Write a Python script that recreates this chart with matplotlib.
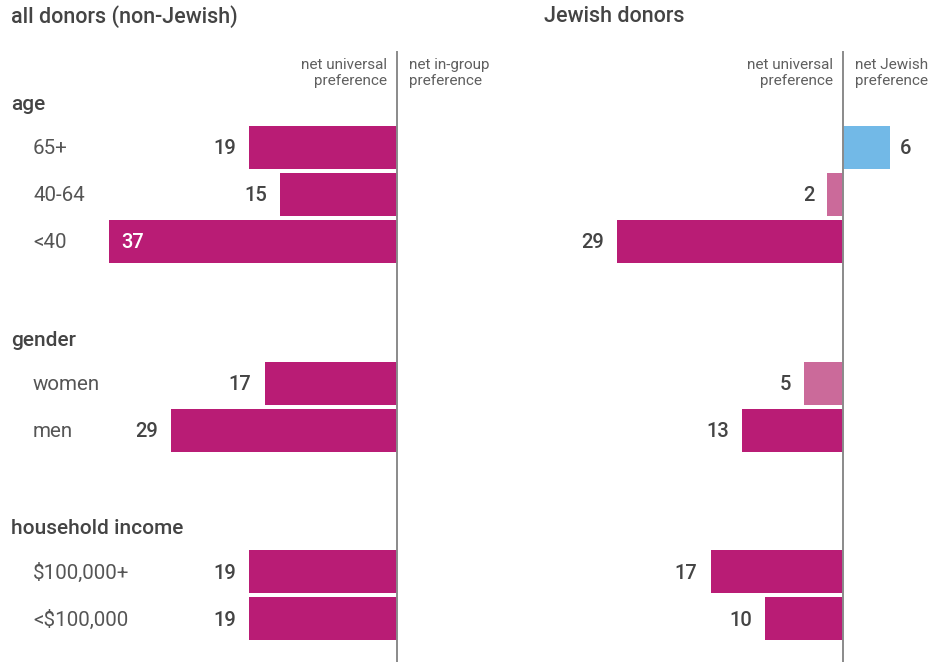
import matplotlib
matplotlib.use('Agg')
import matplotlib.pyplot as plt

plt.rcParams['font.family'] = ['Roboto', 'DejaVu Sans']

# datos (valor negativo = preferencia universal)
groups = ['age', 'gender', 'household income']
rows = [['65+', '40-64', '<40'], ['women', 'men'], ['$100,000+', '<$100,000']]
all_donors = [[-19, -15, -37], [-17, -29], [-19, -19]]
jewish_donors = [[6, -2, -29], [-5, -13], [-17, -10]]
# barras claras = diferencia no significativa
jewish_light = [[False, True, False], [True, False], [False, False]]

MAGENTA = '#B91C75'
PINK = '#CB6A9A'
BLUE = '#72B9E7'
DARK = '#444444'
MID = '#555555'

W, H = 939, 662
PX = 7.78          # pixeles por unidad
SLOT = 47.0        # pixeles por fila
Y0 = 147.5         # centro de la primera barra

fig = plt.figure(figsize=(W / 100, H / 100), dpi=100)

# posiciones de fila: grupos separados por 3 ranuras
slots = []
start = 0
for g in rows:
    slots.append([start + i for i in range(len(g))])
    start += len(g) + 2
slots[1] = [s + 0.02 for s in slots[1]]
slots[2] = [s + 0.03 for s in slots[2]]

ylim = ((H - Y0) / SLOT, -Y0 / SLOT)


def panel(x0, x1, zero, values, light, right_label, show_rows):
    ax = fig.add_axes([x0 / W, 0, (x1 - x0) / W, 1])
    ax.set_xlim(-(zero - x0) / PX, (x1 - zero) / PX)
    ax.set_ylim(*ylim)
    ax.axis('off')
    xmin = -(zero - x0) / PX

    for gi, g in enumerate(groups):
        for ri, lab in enumerate(rows[gi]):
            v = values[gi][ri]
            y = slots[gi][ri]
            if v > 0:
                c = BLUE
            elif light is not None and light[gi][ri]:
                c = PINK
            else:
                c = MAGENTA
            ax.barh(y, v, height=43 / SLOT, color=c, linewidth=0, zorder=2)
            if v > 0:
                ax.text(v + 1.3, y + 0.03, str(abs(v)), ha='left', va='center',
                        fontsize=14.5, fontweight='medium', color=DARK)
            elif abs(v) > 30 and light is None:
                ax.text(v + 1.6, y + 0.03, str(abs(v)), ha='left', va='center',
                        fontsize=14.5, fontweight='medium', color='white')
            else:
                ax.text(v - 1.7, y + 0.03, str(abs(v)), ha='right', va='center',
                        fontsize=14.5, fontweight='medium', color=DARK)
            if show_rows:
                ax.text(xmin + 33 / PX, y + 0.03, lab, ha='left', va='center',
                        fontsize=14.8, color=MID)
        if show_rows:
            ax.text(xmin + 11 / PX, slots[gi][0] - 0.92, g, ha='left', va='center',
                    fontsize=15, fontweight='medium', color=DARK)

    ax.plot([0, 0], [ylim[0], (52 - Y0) / SLOT], color='#8a8a8a', lw=1.4, zorder=3)
    ax.text(-10 / PX, (73 - Y0) / SLOT, 'net universal\npreference', ha='right', va='center',
            fontsize=11, color='#5f5f5f', linespacing=1.2)
    ax.text(12 / PX, (73 - Y0) / SLOT, right_label + '\npreference', ha='left', va='center',
            fontsize=11, color='#5f5f5f', linespacing=1.2)
    return ax


ax1 = panel(0, 520, 397, all_donors, None, 'net in-group', True)
ax2 = panel(520, 939, 843, jewish_donors, jewish_light, 'net Jewish', False)

fig.text(11 / W, 1 - 17 / H, 'all donors (non-Jewish)', ha='left', va='center',
         fontsize=15.5, fontweight='medium', color=DARK)
fig.text(544 / W, 1 - 17 / H, 'Jewish donors', ha='left', va='center',
         fontsize=15.5, fontweight='medium', color=DARK)

plt.savefig('out.png', dpi=100)
plt.close()
